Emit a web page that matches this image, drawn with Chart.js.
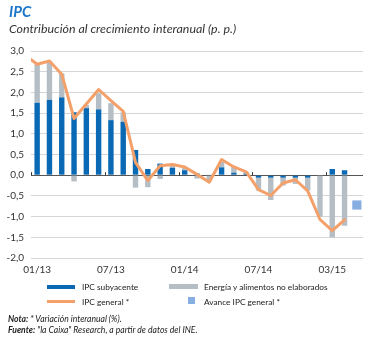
<!DOCTYPE html>
<html>
<head>
<meta charset="utf-8">
<script src="https://cdn.jsdelivr.net/npm/chart.js@4.4.1/dist/chart.umd.min.js"></script>
<style>
  html, body { margin: 0; padding: 0; background: #fff; }
  body { width: 370px; height: 338px; position: relative; overflow: hidden; font-family: Lato, "Open Sans", sans-serif; }
  #c { position: absolute; left: 0; top: 0; }
  .t { position: absolute; white-space: nowrap; line-height: 1; }
  #title { left: 9px; top: 4px; font-size: 15px; font-weight: 700; font-style: italic; color: #1b76c9; }
  #sub { left: 9px; top: 23px; font-size: 12.4px; font-style: italic; color: #333; }
  .lg { position: absolute; }
  .lt { position: absolute; font-size: 8.3px; color: #222; white-space: nowrap; line-height: 1; }
  .fn { position: absolute; left: 8px; font-size: 8.6px; font-style: italic; color: #222; white-space: nowrap; line-height: 1; }
  .fn b { font-weight: 700; }
</style>
</head>
<body>
<canvas id="c" width="370" height="338"></canvas>
<div class="t" id="title">IPC</div>
<div class="t" id="sub">Contribución al crecimiento interanual (p. p.)</div>

<div class="lg" style="left:47px;top:285px;width:28px;height:4px;background:#0a69b4"></div>
<div class="lt" style="left:82px;top:283px">IPC subyacente</div>
<div class="lg" style="left:169px;top:284px;width:29px;height:5px;background:#b5bec4"></div>
<div class="lt" style="left:204px;top:283px">Energía y alimentos no elaborados</div>
<div class="lg" style="left:47px;top:300px;width:28px;height:3px;background:#f4a06a"></div>
<div class="lt" style="left:82px;top:298px">IPC general *</div>
<div class="lg" style="left:188px;top:297px;width:7px;height:7px;background:#86aee0"></div>
<div class="lt" style="left:204px;top:298px">Avance IPC general *</div>

<div class="fn" style="top:315px"><b>Nota:</b> * Variación interanual (%).</div>
<div class="fn" style="top:326px"><b>Fuente:</b> "la Caixa" Research, a partir de datos del INE.</div>

<script>
// Months Jan 2013 .. Mar 2015 (index 0..26)
const months = ["01/13","02/13","03/13","04/13","05/13","06/13","07/13","08/13","09/13","10/13","11/13","12/13",
                "01/14","02/14","03/14","04/14","05/14","06/14","07/14","08/14","09/14","10/14","11/14","12/14",
                "01/15","02/15","03/15"];
// Tick labels as printed on the reference axis
const tickIndex  = [0, 6, 12, 18, 24];
const tickLabels = ["01/13", "07/13", "01/14", "07/14", "03/15"];

// IPC subyacente contribution (p.p.), 01/13 .. 02/15
const subyacente = [1.75,1.82,1.88,1.52,1.62,1.59,1.33,1.29,0.61,0.15,0.28,0.18,
                    0.12,0.04,0.01,0.19,0.06,0.04,-0.06,-0.06,-0.06,-0.06,-0.06,0.00,
                    0.15,0.12];
// Energía y alimentos no elaborados contribution (p.p.), 01/13 .. 02/15
const energia = [0.95,0.93,0.58,-0.15,0.08,0.39,0.41,0.23,-0.30,-0.29,-0.09,0.08,
                 0.07,-0.08,-0.12,0.13,0.14,0.04,-0.31,-0.54,-0.19,-0.15,-0.31,-1.00,
                 -1.50,-1.22];
// IPC general (% y/y), 12/12 .. 02/15 (first value sits just before the plot edge)
const general = [2.90,
                 2.68,2.76,2.44,1.37,1.72,2.07,1.80,1.54,0.31,-0.13,0.23,0.26,
                 0.20,0.02,-0.17,0.38,0.20,0.08,-0.35,-0.49,-0.19,-0.11,-0.38,-1.07,
                 -1.34,-1.08];
// Avance IPC general, 03/15
const avanceIndex = 26;
const avance = -0.72;

const barPts = arr => arr.map((v, i) => ({x: i, y: v}));
const linePts = general.map((v, i) => ({x: i - 1, y: v}));

// small tick marks on the zero line between half-years
const zeroTicks = {
  id: 'zeroTicks',
  afterDatasetsDraw(chart) {
    const {ctx, scales: {x, y}} = chart;
    const y0 = y.getPixelForValue(0);
    ctx.save();
    ctx.strokeStyle = '#333';
    ctx.lineWidth = 1;
    tickIndex.forEach(i => {
      const px = Math.round(x.getPixelForValue(i - 0.5)) + 0.5;
      ctx.beginPath(); ctx.moveTo(px, y0 - 3); ctx.lineTo(px, y0); ctx.stroke();
    });
    ctx.restore();
  }
};

new Chart(document.getElementById('c'), {
  data: {
    datasets: [
      { type: 'bar', label: 'IPC subyacente', data: barPts(subyacente), backgroundColor: '#0a69b4',
        barPercentage: 0.44, categoryPercentage: 1, stack: 'bars', order: 1 },
      { type: 'bar', label: 'Energía y alimentos no elaborados', data: barPts(energia), backgroundColor: '#b5bec4',
        barPercentage: 0.44, categoryPercentage: 1, stack: 'bars', order: 1 },
      { type: 'line', label: 'IPC general *', data: linePts, borderColor: '#f4a06a', borderWidth: 3,
        pointRadius: 0, tension: 0, stack: 'line', order: 0, borderJoinStyle: 'round', borderCapStyle: 'round' },
      { type: 'scatter', label: 'Avance IPC general *', data: [{x: avanceIndex, y: avance}], pointStyle: 'rect',
        pointRadius: 6.5, backgroundColor: '#86aee0', borderWidth: 0, stack: 'av', order: 0 }
    ]
  },
  plugins: [zeroTicks],
  options: {
    responsive: false,
    devicePixelRatio: 1,
    animation: false,
    layout: { padding: { left: 0, right: 7, top: 51, bottom: 58 } },
    plugins: { legend: { display: false }, tooltip: { enabled: false } },
    scales: {
      x: {
        type: 'linear', min: -0.5, max: 26.5, offset: false,
        afterBuildTicks: s => { s.ticks = tickIndex.map(v => ({value: v})); },
        afterFit: s => { s.height = 22; },
        grid: { display: false, drawTicks: false },
        border: { display: false },
        ticks: { autoSkip: false, maxRotation: 0, padding: 6, color: '#333',
                 font: { family: 'Lato', size: 10 },
                 callback: (v) => tickLabels[tickIndex.indexOf(v)] }
      },
      y: {
        stacked: true, min: -2, max: 3,
        afterFit: s => { s.width = 31; },
        grid: { drawTicks: false, lineWidth: 1,
                color: ctx => ctx.tick && ctx.tick.value === 0 ? '#555' : '#d6d6d6' },
        border: { display: false },
        ticks: { stepSize: 0.5, padding: 7, color: '#333', font: { family: 'Lato', size: 10 },
                 callback: v => v.toFixed(1).replace('.', ',') }
      }
    }
  }
});
</script>
</body>
</html>
